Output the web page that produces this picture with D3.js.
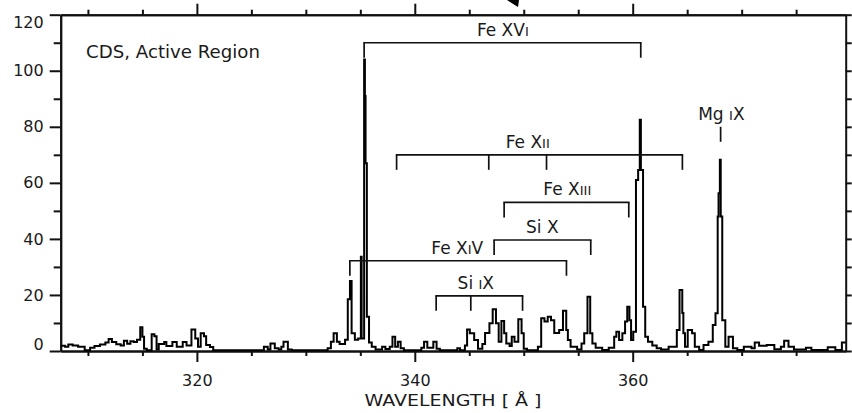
<!DOCTYPE html>
<html>
<head>
<meta charset="utf-8">
<script src="https://cdn.jsdelivr.net/npm/d3@7"></script>
<style>
  body { margin: 0; background: #fff; }
  svg { display: block; font-family: 'DejaVu Sans', sans-serif; }
  .axis path, .axis line { stroke: #111; stroke-width: 2; }
  .axis text { fill: #1a1a1a; font-size: 16px; font-family: 'DejaVu Sans', sans-serif; }
</style>
</head>
<body>
<svg id="chart" width="852" height="413"></svg>
<script>
// spectrum as steps: start wavelength of each step [A] and its intensity
const wavelength = [
  307.5, 307.9, 308.2, 308.6, 309.1, 309.7, 310.2, 310.6, 311.1, 311.6, 311.9, 312.2, 312.6, 313.0, 313.3, 313.6,
  313.9, 314.2, 314.5, 314.8, 315.0, 315.15, 315.4, 315.85, 316.1, 316.3, 316.5, 317.0, 317.2, 317.75, 318.15,
  318.7, 319.05, 319.5, 319.85, 320.1, 320.35, 320.65, 320.85, 321.2, 321.5,
  326.15, 326.5, 326.75, 327.15, 327.5, 327.75, 327.95, 328.35, 328.7,
  332.0, 332.3, 332.55, 332.85, 333.1, 333.6, 333.85, 334.05, 334.2, 334.5, 334.8, 335.05, 335.12, 335.35, 335.42,
  335.48, 335.6, 335.8, 336.05, 336.4, 337.0, 337.3, 337.7, 337.95, 338.2, 338.45, 338.7, 339.0,
  340.6, 340.85, 341.15, 341.7, 342.0, 342.3, 343.9, 344.15, 344.6, 344.8, 345.05, 345.45, 345.8,
  346.2, 346.45, 346.85, 347.15, 347.45, 347.7, 347.95, 348.2, 348.4, 348.7, 348.9, 349.15, 349.5, 349.8, 350.0, 350.3,
  351.3, 351.6, 351.9, 352.2, 352.5, 352.8, 353.25, 353.6, 353.9, 354.05, 354.3, 354.9, 355.3, 355.55, 355.85,
  356.1, 356.3, 356.6, 357.2, 357.8, 358.3, 358.5, 358.75, 359.05, 359.3, 359.5, 359.7, 359.85, 360.05,
  360.3, 360.5, 360.65, 360.75, 360.95, 361.15, 361.4, 361.8, 362.2, 362.6, 363.3,
  364.05, 364.3, 364.55, 364.65, 364.8, 365.05, 365.45, 365.7, 366.1, 366.5, 366.95, 367.35, 367.6,
  367.8, 367.88, 368.0, 368.08, 368.22, 368.5, 368.8, 369.2, 369.6, 370.2, 370.9, 371.2, 371.6, 372.3,
  373.0, 373.6, 373.9, 374.3, 374.8, 375.9, 376.4, 377.9, 378.6, 379.2
]
const intensity = [
  1.9, 1.5, 2.3, 2.0, 1.5, 0.3, 1.2, 1.8, 2.3, 3.0, 4.3, 3.2, 2.4, 2.0, 3.7, 2.6,
  3.5, 3.2, 4.0, 8.5, 5.1, 0.8, 0.3, 6.0, 5.3, 0.5, 2.5, 3.2, 1.8, 3.2, 1.5,
  3.2, 2.0, 7.7, 4.5, 1.5, 6.3, 5.3, 2.1, 1.4, 0.3,
  1.5, 0.5, 2.7, 1.0, 0.5, 1.5, 3.3, 0.5, 0.3,
  1.0, 3.3, 6.3, 3.3, 2.5, 4.0, 18.5, 25.0, 6.3, 4.0, 4.5, 33.6, 4.5, 104, 91,
  67, 12.2, 3.0, 1.5, 0.5, 1.5, 0.7, 1.5, 5.1, 1.5, 3.3, 1.0, 0.3,
  1.2, 3.3, 1.2, 3.3, 0.8, 0.3, 1.0, 0.3, 2.0, 7.7, 6.3, 3.9, 0.8,
  2.5, 6.4, 9.9, 14.9, 9.9, 3.3, 10.7, 6.3, 2.7, 1.8, 5.1, 3.3, 11.3, 6.3, 0.8, 0.3,
  1.5, 11.7, 10.5, 12.2, 11.0, 6.4, 7.5, 14.4, 7.5, 3.9, 1.5, 0.5, 2.7, 6.3, 19.4,
  6.3, 2.7, 1.2, 0.4, 1.2, 5.1, 6.9, 3.9, 6.3, 10.5, 15.8, 11.0, 3.9, 6.9,
  61, 64.6, 82.5, 64.6, 15.8, 5.1, 3.3, 2.0, 1.0, 0.5, 1.5,
  7.5, 21.8, 13.6, 6.3, 1.5, 7.5, 6.3, 1.5, 0.4, 2.1, 3.3, 9.3, 13.5,
  48, 56.3, 68.2, 48, 11, 1.5, 5.1, 1.0, 0.4, 1.5, 1.0, 3.0, 1.9, 2.1,
  0.6, 1.5, 3.7, 1.5, 0.5, 1.2, 0.4, 1.3, 0.4, 3.0
]

const xMajorTicks = [320, 340, 360]
const xMinorTicks = [310, 315, 325, 330, 335, 345, 350, 355, 365, 370, 375]
const yMajorTicks = [0, 20, 40, 60, 80, 100, 120]
const yMinorTicks = [10, 30, 50, 70, 90, 110]

// line identifications
const ionNames = ['Fe XVI', 'Fe XII', 'Fe XIII', 'Si X', 'Fe XIV', 'Si IX', 'Mg IX']
const ionLines = [
  [335.35, 360.74],
  [338.33, 346.79, 352.09, 364.56],
  [348.2, 359.64],
  [347.28, 356.15],
  [334.04, 353.92],
  [341.96, 345.14, 349.89],
  [368.07]
]
const ionLevel = [110, 70, 53, 39.6, 32.2, 19.7, 80]
const ionLabelAt = [348.08, 350.37, 354.0, 351.7, 343.9, 345.6, 368.14]

const W = 852, H = 413
const margin = { top: 14.7, right: 6.3, bottom: 62, left: 60.7 }

const svg = d3.select('#chart')

const x = d3.scaleLinear().domain([307.5, 379.55]).range([margin.left, W - margin.right])
const y = d3.scaleLinear().domain([0, 120]).range([H - margin.bottom, margin.top])

const x0 = margin.left, x1 = W - margin.right
const y0 = H - margin.bottom, y1 = margin.top

function addAxis(axis, tx, ty) {
  return svg.append('g').attr('class', 'axis').attr('transform', `translate(${tx},${ty})`).call(axis)
}

// bottom
addAxis(d3.axisBottom(x).tickValues(xMinorTicks).tickSize(5).tickSizeOuter(0).tickFormat(''), 0, y0)
addAxis(d3.axisBottom(x).tickValues(xMajorTicks).tickSize(11).tickSizeOuter(0).tickPadding(13).tickFormat(d3.format('d')), 0, y0)
// top
addAxis(d3.axisTop(x).tickValues(xMinorTicks).tickSize(5).tickSizeOuter(0).tickFormat(''), 0, y1)
addAxis(d3.axisTop(x).tickValues(xMajorTicks).tickSize(11).tickSizeOuter(0).tickFormat(''), 0, y1)
// left
addAxis(d3.axisLeft(y).tickValues(yMinorTicks).tickSize(7).tickSizeOuter(0).tickFormat(''), x0, 0)
var yAx = addAxis(d3.axisLeft(y).tickValues(yMajorTicks).tickSize(11).tickSizeOuter(0).tickPadding(6).tickFormat(d3.format('d')), x0, 0)
// end labels sit inside the frame a little
yAx.selectAll('.tick text').attr('transform', function (d) {
  if (d === 0) return 'translate(0,-7)'
  if (d === 120) return 'translate(0,8)'
  return null
})
// right
addAxis(d3.axisRight(y).tickValues(yMajorTicks.concat(yMinorTicks)).tickSize(6).tickSizeOuter(0).tickFormat(''), x1, 0)

// spectrum
const pts = wavelength.map((w, i) => [w, intensity[i]])
pts.push([x.domain()[1], intensity[intensity.length - 1]])

const line = d3.line()
  .x((d) => x(d[0]))
  .y((d) => y(d[1]))
  .curve(d3.curveStepAfter)

svg.append('path')
  .datum(pts)
  .attr('d', line)
  .attr('fill', 'none')
  .attr('stroke', '#000')
  .attr('stroke-width', 2)
  .attr('stroke-linejoin', 'miter')

// brackets and labels
const legLen = 15
const ions = svg.append('g').attr('stroke', '#111').attr('stroke-width', 1.7).attr('fill', 'none')

ionNames.forEach(function (name, i) {
  var lines = ionLines[i]
  var ly = y(ionLevel[i])
  if (lines.length > 1) {
    ions.append('line')
      .attr('x1', x(lines[0]) - 0.8)
      .attr('x2', x(lines[lines.length - 1]) + 0.8)
      .attr('y1', ly)
      .attr('y2', ly)
  }
  lines.forEach(function (w) {
    ions.append('line').attr('x1', x(w)).attr('x2', x(w)).attr('y1', ly).attr('y2', ly + legLen)
  })

  var t = svg.append('text')
    .attr('x', x(ionLabelAt[i]))
    .attr('y', ly - 7)
    .attr('text-anchor', 'middle')
    .attr('fill', '#1a1a1a')
    .style('font-size', '17px')

  var parts = name.split(' ')
  t.append('tspan').text(parts[0] + ' ')
  // roman numeral, the I's are set as small capitals
  for (const ch of parts[1]) {
    t.append('tspan').text(ch).style('font-size', ch === 'I' ? '13px' : '17px')
  }
})

svg.append('text')
  .attr('x', 86)
  .attr('y', 58)
  .attr('fill', '#1a1a1a')
  .attr('textLength', 174)
  .attr('lengthAdjust', 'spacingAndGlyphs')
  .style('font-size', '17px')
  .text('CDS, Active Region')

svg.append('text')
  .attr('x', 453)
  .attr('y', 406)
  .attr('text-anchor', 'middle')
  .attr('fill', '#1a1a1a')
  .attr('textLength', 177)
  .attr('lengthAdjust', 'spacingAndGlyphs')
  .style('font-size', '16px')
  .text('WAVELENGTH [ Å ]')

// clipped arrow head at the top edge of the page
svg.append('path').attr('d', 'M507,0 L519,0 L518,7 Z').attr('fill', '#000')
</script>
</body>
</html>
